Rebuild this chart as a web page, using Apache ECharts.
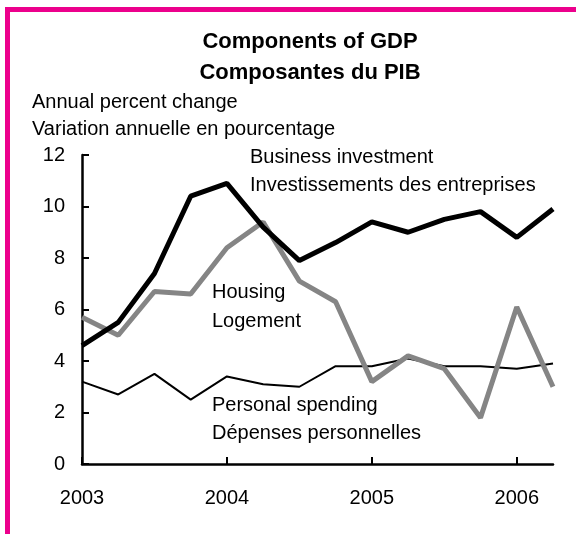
<!DOCTYPE html>
<html>
<head>
<meta charset="utf-8">
<script src="https://cdn.jsdelivr.net/npm/echarts@6/dist/echarts.min.js"></script>
<style>
  html, body { margin: 0; padding: 0; background: #fff; }
  #frame { position: absolute; left: 5px; top: 7px; width: 571px; height: 527px;
           border-top: 5px solid #ec008c; border-left: 5px solid #ec008c; box-sizing: border-box; }
  #chart { position: absolute; left: 0; top: 0; width: 576px; height: 534px; }
</style>
</head>
<body>
<div id="frame"></div>
<div id="chart"></div>
<script>
// quarterly data, 2003Q1 - 2006Q2
const quarters = ['2003 Q1', '2003 Q2', '2003 Q3', '2003 Q4',
                  '2004 Q1', '2004 Q2', '2004 Q3', '2004 Q4',
                  '2005 Q1', '2005 Q2', '2005 Q3', '2005 Q4',
                  '2006 Q1', '2006 Q2'];
const businessInvestment = [4.6, 5.5, 7.4, 10.4, 10.9, 9.2, 7.9, 8.6, 9.4, 9.0, 9.5, 9.8, 8.8, 9.9];
const housing = [5.7, 5.0, 6.7, 6.6, 8.4, 9.4, 7.1, 6.3, 3.2, 4.2, 3.7, 1.8, 6.1, 3.0];
const personalSpending = [3.2, 2.7, 3.5, 2.5, 3.4, 3.1, 3.0, 3.8, 3.8, 4.1, 3.8, 3.8, 3.7, 3.9];

const FONT = '"Liberation Sans", Arial, sans-serif';

const chart = echarts.init(document.getElementById('chart'), null, { renderer: 'canvas' });

// plain text helper (left aligned, vertically centred on y)
const label = (text, x, y) => ({
  type: 'text',
  x: x,
  y: y,
  style: { text: text, fill: '#000', font: '20px ' + FONT, verticalAlign: 'middle' }
});
const heading = (text, y) => ({
  type: 'text',
  x: 310,
  y: y,
  style: { text: text, fill: '#000', font: 'bold 22px ' + FONT, align: 'center', verticalAlign: 'middle' }
});

const option = {
  backgroundColor: 'transparent',
  animation: false,
  grid: {
    left: 82,
    right: 23,
    top: 155,
    bottom: 70
  },
  xAxis: {
    type: 'category',
    data: quarters,
    boundaryGap: false,
    axisLine: { lineStyle: { color: '#000', width: 2.5 } },
    axisTick: { inside: true, length: 7, interval: 3, lineStyle: { color: '#000', width: 2 } },
    axisLabel: {
      interval: 3,
      margin: 24,
      color: '#000',
      fontFamily: FONT,
      fontSize: 20,
      formatter: v => v.slice(0, 4)
    },
    splitLine: { show: false }
  },
  yAxis: {
    type: 'value',
    min: 0,
    max: 12,
    interval: 2,
    axisLine: { show: true, lineStyle: { color: '#000', width: 2.5 } },
    axisTick: { show: true, inside: true, length: 7, lineStyle: { color: '#000', width: 2 } },
    axisLabel: { margin: 17, color: '#000', fontFamily: FONT, fontSize: 20 },
    splitLine: { show: false }
  },
  series: [
    {
      name: 'Personal spending',
      type: 'line',
      data: personalSpending,
      showSymbol: false,
      lineStyle: { color: '#000', width: 2 },
      z: 2
    },
    {
      name: 'Housing',
      type: 'line',
      data: housing,
      showSymbol: false,
      lineStyle: { color: '#858585', width: 5 },
      z: 3
    },
    {
      name: 'Business investment',
      type: 'line',
      data: businessInvestment,
      showSymbol: false,
      lineStyle: { color: '#000', width: 5 },
      z: 4
    }
  ],
  graphic: [
    heading('Components of GDP', 42),
    heading('Composantes du PIB', 73),
    label('Annual percent change', 32, 102),
    label('Variation annuelle en pourcentage', 32, 129),
    label('Business investment', 250, 157),
    label('Investissements des entreprises', 250, 185),
    label('Housing', 212, 292),
    label('Logement', 212, 321),
    label('Personal spending', 212, 405),
    label('Dépenses personnelles', 212, 433)
  ]
};

chart.setOption(option);
</script>
</body>
</html>
